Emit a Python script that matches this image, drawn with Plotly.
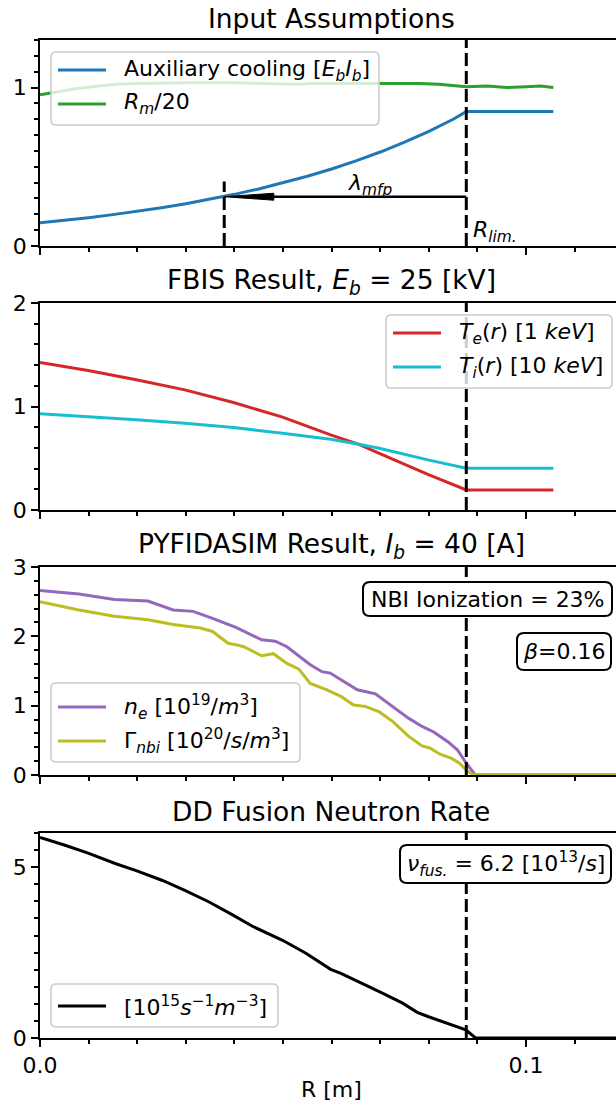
import plotly.graph_objects as go

# ---------------- data ----------------
r_aux = [0.0, 0.005, 0.01, 0.015, 0.02, 0.025, 0.03, 0.035, 0.04, 0.045, 0.05,
         0.055, 0.06, 0.065, 0.07, 0.075, 0.08, 0.085, 0.0877, 0.1056]
aux_cooling = [0.147, 0.162, 0.179, 0.198, 0.219, 0.242, 0.267, 0.295, 0.326, 0.360,
               0.398, 0.440, 0.486, 0.537, 0.593, 0.655, 0.724, 0.800, 0.848, 0.848]

r_mirror = [0.0, 0.004, 0.008, 0.012, 0.016, 0.02, 0.03, 0.04, 0.05, 0.053, 0.056,
            0.06, 0.07, 0.078, 0.082, 0.0877, 0.092, 0.096, 0.1, 0.103, 0.1056]
mirror_ratio = [0.955, 0.975, 0.995, 1.01, 1.02, 1.025, 1.03, 1.03, 1.025, 1.02, 1.025,
                1.025, 1.025, 1.025, 1.02, 1.005, 1.01, 1.0, 1.005, 1.01, 1.0]

r_temp = [0.0, 0.0099, 0.0198, 0.0298, 0.0398, 0.0499, 0.0598, 0.0656, 0.0698,
          0.0798, 0.0877, 0.1056]
Te = [1.426, 1.348, 1.258, 1.161, 1.039, 0.897, 0.726, 0.635, 0.548, 0.345, 0.194, 0.194]
Ti = [0.929, 0.903, 0.871, 0.839, 0.797, 0.742, 0.684, 0.635, 0.597, 0.484, 0.403, 0.403]

r_ne = [0.0, 0.008, 0.0153, 0.0222, 0.0274, 0.0315, 0.0355, 0.0403, 0.0456, 0.0484,
        0.0508, 0.0556, 0.058, 0.0597, 0.062, 0.0653, 0.069, 0.0726, 0.0758, 0.0786,
        0.081, 0.0839, 0.0859, 0.0877, 0.0895, 0.125]
ne = [2.66, 2.61, 2.53, 2.51, 2.38, 2.36, 2.26, 2.13, 1.95, 1.93,
      1.85, 1.59, 1.49, 1.47, 1.37, 1.23, 1.17, 0.99, 0.82, 0.70,
      0.62, 0.48, 0.36, 0.17, 0.005, 0.005]

r_gam = [0.0, 0.008, 0.0153, 0.0222, 0.0274, 0.033, 0.0355, 0.0387, 0.0403, 0.0419,
         0.0456, 0.048, 0.0508, 0.0532, 0.0556, 0.0589, 0.062, 0.0645, 0.0669, 0.0698,
         0.0726, 0.0758, 0.0786, 0.0802, 0.0823, 0.0847, 0.0863, 0.0877, 0.0891, 0.125]
gam_nbi = [2.50, 2.38, 2.29, 2.24, 2.17, 2.12, 2.07, 1.90, 1.88, 1.85,
           1.72, 1.75, 1.61, 1.53, 1.32, 1.23, 1.13, 1.01, 0.99, 0.91,
           0.77, 0.56, 0.42, 0.39, 0.30, 0.24, 0.17, 0.07, 0.005, 0.005]

r_fus = [0.0, 0.005, 0.0099, 0.0156, 0.0198, 0.0252, 0.0298, 0.0348, 0.0398, 0.0437,
         0.0499, 0.0547, 0.0598, 0.0619, 0.0698, 0.0746, 0.0776, 0.0798, 0.0876,
         0.0896, 0.125]
fusion_rate = [5.87, 5.65, 5.41, 5.10, 4.90, 4.61, 4.32, 3.98, 3.59, 3.27,
               2.86, 2.48, 2.01, 1.89, 1.36, 1.02, 0.75, 0.63, 0.24, 0.0, 0.0]

R_LIM = 0.0877
LAMBDA_START = 0.0379
ARROW_Y = 0.311
LAMBDA_TOP = 0.407
HEAD_LEN = 0.0102
HEAD_HALF = 0.022

titles = ["Input Assumptions",
          "FBIS Result, <i>E<sub>b</sub></i> = 25 [kV]",
          "PYFIDASIM Result, <i>I<sub>b</sub></i> = 40 [A]",
          "DD Fusion Neutron Rate"]
y_ranges = [[0, 1.3], [0, 2], [0, 3], [0, 6]]
y_dticks = [1, 1, 1, 5]
y_minor = [0.1, 0.2, 0.2, 0.5]
x_range = [0, 0.1185]

# ---------------- layout helpers (pixels) ----------------
W, H = 616, 1107
L, R, T, B = 40, 616, 40, 1038
panel_px = [(40, 246), (303, 510), (567, 775), (833, 1038)]


def px(x):
    return (x - L) / (R - L)


def py(y):
    return (B - y) / (B - T)


def rrect(x0, y0, x1, y1, r):
    pts = []
    pts.append("M %f,%f" % (px(x0 + r), py(y0)))
    pts.append("L %f,%f" % (px(x1 - r), py(y0)))
    pts.append("Q %f,%f %f,%f" % (px(x1), py(y0), px(x1), py(y0 + r)))
    pts.append("L %f,%f" % (px(x1), py(y1 - r)))
    pts.append("Q %f,%f %f,%f" % (px(x1), py(y1), px(x1 - r), py(y1)))
    pts.append("L %f,%f" % (px(x0 + r), py(y1)))
    pts.append("Q %f,%f %f,%f" % (px(x0), py(y1), px(x0), py(y1 - r)))
    pts.append("L %f,%f" % (px(x0), py(y0 + r)))
    pts.append("Q %f,%f %f,%f" % (px(x0), py(y0), px(x0 + r), py(y0)))
    return " ".join(pts) + " Z"


FONT = "DejaVu Sans"
fig = go.Figure()

series = [
    (1, r_aux, aux_cooling, "#1f77b4"),
    (1, r_mirror, mirror_ratio, "#2ca02c"),
    (2, r_temp, Te, "#d62728"),
    (2, r_temp, Ti, "#17becf"),
    (3, r_ne, ne, "#9467bd"),
    (3, r_gam, gam_nbi, "#bcbd22"),
    (4, r_fus, fusion_rate, "black"),
]
for k, xs, ys, c in series:
    fig.add_trace(go.Scatter(x=xs, y=ys, mode="lines", line=dict(color=c, width=3),
                             xaxis="x" if k == 1 else "x%d" % k,
                             yaxis="y" if k == 1 else "y%d" % k,
                             showlegend=False, hoverinfo="skip"))

layout = dict(width=W, height=H, autosize=False,
              margin=dict(l=L, r=W - R, t=T, b=H - B, pad=0),
              paper_bgcolor="white", plot_bgcolor="white",
              font=dict(family=FONT, size=22, color="black"),
              showlegend=False)
shapes = []
annotations = []
for i in range(4):
    k = i + 1
    sx = "" if k == 1 else str(k)
    top, bot = panel_px[i]
    layout["xaxis" + sx] = dict(
        domain=[0, 1], range=x_range, anchor="y" + sx,
        showline=True, mirror=True, linecolor="black", linewidth=1.6,
        ticks="outside", ticklen=7, tickwidth=1.6, tickcolor="black",
        dtick=0.1, tick0=0, tickformat=".1f",
        showticklabels=(k == 4), tickfont=dict(size=22),
        minor=dict(ticks="outside", ticklen=4, tickwidth=1.6, tickcolor="black", dtick=0.01),
        showgrid=False, zeroline=False)
    layout["yaxis" + sx] = dict(
        domain=[py(bot), py(top)], range=y_ranges[i], anchor="x" + sx,
        showline=True, mirror=False, linecolor="black", linewidth=1.6,
        ticks="outside", ticklen=7, tickwidth=1.6, tickcolor="black",
        dtick=y_dticks[i], tick0=0, tickfont=dict(size=22),
        minor=dict(ticks="outside", ticklen=4, tickwidth=1.6, tickcolor="black", dtick=y_minor[i]),
        showgrid=False, zeroline=False)
    # R_lim dashed line
    shapes.append(dict(type="line", xref="x" + sx, yref="y%s domain" % sx,
                       x0=R_LIM, x1=R_LIM, y0=0, y1=1, layer="above",
                       line=dict(color="black", width=3, dash="13px,5px")))
    annotations.append(dict(text=titles[i], xref="paper", yref="paper",
                            x=px(331), y=py(top - 22), xanchor="center", yanchor="middle",
                            showarrow=False, font=dict(size=26.5)))

# lambda_mfp marker & arrow in panel 1
shapes.append(dict(type="line", xref="x", yref="y", x0=LAMBDA_START, x1=LAMBDA_START,
                   y0=0, y1=LAMBDA_TOP, layer="above",
                   line=dict(color="black", width=3, dash="13px,5px")))
shapes.append(dict(type="line", xref="x", yref="y", x0=R_LIM, x1=LAMBDA_START + HEAD_LEN,
                   y0=ARROW_Y, y1=ARROW_Y, layer="above", line=dict(color="black", width=2.5)))
shapes.append(dict(type="path", xref="x", yref="y", layer="above",
                   path="M %f,%f L %f,%f L %f,%f Z" % (
                       LAMBDA_START + HEAD_LEN, ARROW_Y + HEAD_HALF,
                       LAMBDA_START, ARROW_Y,
                       LAMBDA_START + HEAD_LEN, ARROW_Y - HEAD_HALF),
                   fillcolor="black", line=dict(color="black", width=1)))
annotations.append(dict(text="<i>λ<sub>mfp</sub></i>", xref="x", yref="y",
                        x=0.0678, y=0.39, xanchor="center", yanchor="middle",
                        showarrow=False, font=dict(size=22)))
annotations.append(dict(text="<i>R<sub>lim.</sub></i>", xref="x", yref="y",
                        x=0.0886, y=0.09, xanchor="left", yanchor="middle",
                        showarrow=False, font=dict(size=22)))

# legends (drawn manually, matplotlib style)
legends = [
    ((51, 52, 379, 125), [(70, "#1f77b4", "Auxiliary cooling [<i>E<sub>b</sub>I<sub>b</sub></i>]"),
                          (104, "#2ca02c", "<i>R<sub>m</sub></i>/20")], 51),
    ((386, 315, 612, 388), [(333, "#d62728", "<i>T<sub>e</sub></i>(<i>r</i>) [1 <i>keV</i>]"),
                            (367, "#17becf", "<i>T<sub>i</sub></i>(<i>r</i>) [10 <i>keV</i>]")], 386),
    ((51, 683, 300, 762), [(707, "#9467bd", "<i>n<sub>e</sub></i> [10<sup>19</sup>/<i>m</i><sup>3</sup>]"),
                           (741, "#bcbd22", "Γ<sub><i>nbi</i></sub> [10<sup>20</sup>/<i>s</i>/<i>m</i><sup>3</sup>]")], 51),
    ((51, 984, 278, 1027), [(1006, "black", "[10<sup>15</sup><i>s</i><sup>−1</sup><i>m</i><sup>−3</sup>]")], 51),
]
for (x0, y0, x1, y1), entries, bx in legends:
    shapes.append(dict(type="path", xref="paper", yref="paper", layer="above",
                       path=rrect(x0, y0, x1, y1, 5),
                       fillcolor="rgba(255,255,255,0.8)",
                       line=dict(color="#cccccc", width=1.6)))
    for yc, col, txt in entries:
        shapes.append(dict(type="line", xref="paper", yref="paper", layer="above",
                           x0=px(bx + 7), x1=px(bx + 55), y0=py(yc), y1=py(yc),
                           line=dict(color=col, width=3)))
        annotations.append(dict(text=txt, xref="paper", yref="paper",
                                x=px(bx + 71), y=py(yc), xanchor="left", yanchor="middle",
                                showarrow=False, font=dict(size=22)))

# rounded info boxes
boxes = [
    ((363, 582, 612, 616), "NBI Ionization = 23%"),
    ((517, 633, 611, 670), "<i>β</i>=0.16"),
    ((400, 845, 611, 883), "<i>ν<sub>fus.</sub></i> = 6.2 [10<sup>13</sup>/<i>s</i>]"),
]
for (x0, y0, x1, y1), txt in boxes:
    shapes.append(dict(type="path", xref="paper", yref="paper", layer="above",
                       path=rrect(x0, y0, x1, y1, 7), fillcolor="white",
                       line=dict(color="black", width=2)))
    annotations.append(dict(text=txt, xref="paper", yref="paper",
                            x=px((x0 + x1) / 2), y=py((y0 + y1) / 2),
                            xanchor="center", yanchor="middle",
                            showarrow=False, font=dict(size=22)))

annotations.append(dict(text="R [m]", xref="paper", yref="paper",
                        x=px(331), y=py(1089), xanchor="center", yanchor="middle",
                        showarrow=False, font=dict(size=22)))

layout["shapes"] = shapes
layout["annotations"] = annotations
fig.update_layout(**layout)
fig.write_html("out.html", config={"displayModeBar": False})
